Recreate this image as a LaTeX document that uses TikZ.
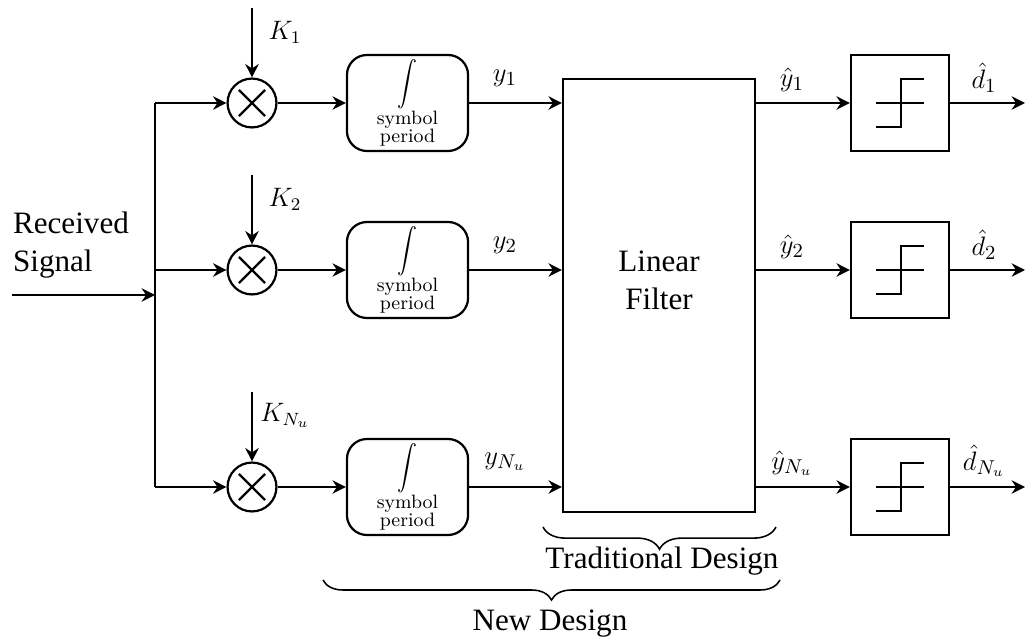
\documentclass[tikz,border=0pt]{standalone}
\usepackage{amsmath}
\usepackage{amssymb}
\usepackage{fontspec}
\newfontfamily\timesfont{Liberation Serif}
\usepackage{tikz}
\usetikzlibrary{
	arrows.meta,
	calc,
	decorations.pathreplacing
}

\begin{document}
\begin{tikzpicture}[x=0.45pt,y=-0.45pt,>={Stealth[length=6pt,width=6pt]},line width=1pt,
		mult/.style={draw,circle,minimum size=22pt,inner sep=0pt},
		integ/.style={draw,rounded corners=9pt,minimum width=54.5pt,minimum height=43.2pt,inner sep=0pt,
			align=center,font=\fontsize{8.7}{8.4}\selectfont},
		slicer/.style={draw,minimum width=44.1pt,minimum height=43.2pt,inner sep=0pt},
		sig/.style={anchor=south,inner sep=0pt,font=\fontsize{13}{15}\selectfont},
		txt/.style={inner sep=0pt,font=\timesfont\fontsize{14}{17}\selectfont}]
		
		\useasboundingbox (0,0) rectangle (1026,639);
		
		% input and bus
		\node[txt,align=left,anchor=west] (rx) at (12,245) {Received\\Signal};
		\coordinate (in) at (12,295);
		\coordinate (bus) at (155,295);
		\coordinate (bustop) at (155,103);
		\coordinate (busbot) at (155,487);
		\draw[->] (in) -- (bus);
		\draw (bustop) -- (busbot);
		
		% linear filter
		\node[draw,minimum width=86.4pt,minimum height=194.9pt,inner sep=0pt] (filt) at (659,295.5) {};
		\node[txt,align=center] (filttxt) at (659,280) {Linear\\Filter};
		
		% branches
		\foreach \i/\r/\k/\y/\yh/\d in {
			1/103/K_1/y_1/\hat{y}_1/\hat{d}_1,
			2/270/K_2/y_2/\hat{y}_2/\hat{d}_2,
			3/487/K_{N_u}/y_{N_u}/\hat{y}_{N_u}/\hat{d}_{N_u}
		}{
			\coordinate (tap\i) at (155,\r);
			\coordinate (kin\i) at (252,\r-95);
			\coordinate (out\i) at (1025,\r);
			\node[mult] (m\i) at (252,\r) {};
			\draw[shorten <=3.2pt,shorten >=3.2pt] (m\i.north west) -- (m\i.south east);
			\draw[shorten <=3.2pt,shorten >=3.2pt] (m\i.south west) -- (m\i.north east);
			\node[integ] (int\i) at (407.5,\r) {\scalebox{1}[1.15]{$\displaystyle\int$}\\symbol\\period};
			\node[slicer] (dec\i) at (900,\r) {};
			\draw[line width=0.9pt] ([shift={(-24,0)}]dec\i.center) -- ([shift={(24,0)}]dec\i.center);
			\draw[line width=0.9pt] ([shift={(-24,24)}]dec\i.center) -- ([shift={(1,24)}]dec\i.center)
				-- ([shift={(1,-24)}]dec\i.center) -- ([shift={(24,-24)}]dec\i.center);
			
			\draw[->] (tap\i) -- (m\i);
			\draw[->] (kin\i) -- (m\i);
			\draw[->] (m\i) -- (int\i);
			\draw[->] (int\i.east) -- (int\i.east -| filt.west);
			\draw[->] (filt.east |- dec\i.west) -- (dec\i.west);
			\draw[->] (dec\i.east) -- (out\i);
			
			\node[sig,font=\fontsize{12}{14}\selectfont] (klab\i) at (285,\r-58) {$\k$};
			\node[sig] (ylab\i) at (505,\r-15) {$\y$};
			\node[sig] (yhat\i) at (792,\r-10) {$\yh$};
			\node[sig] (dhat\i) at (984,\r-9) {$\d$};
		}
		
		% braces
		\draw[line width=0.7pt,decorate,decoration={brace,mirror,amplitude=10pt}] (543,527) -- (776,527);
		\node[txt,anchor=base] (trad) at (662,568) {Traditional Design};
		\draw[line width=0.7pt,decorate,decoration={brace,mirror,amplitude=9pt}] (323,580) -- (780,580);
		\node[txt,anchor=base] (new) at (550,630) {New Design};
		
	\end{tikzpicture}
\end{document}
